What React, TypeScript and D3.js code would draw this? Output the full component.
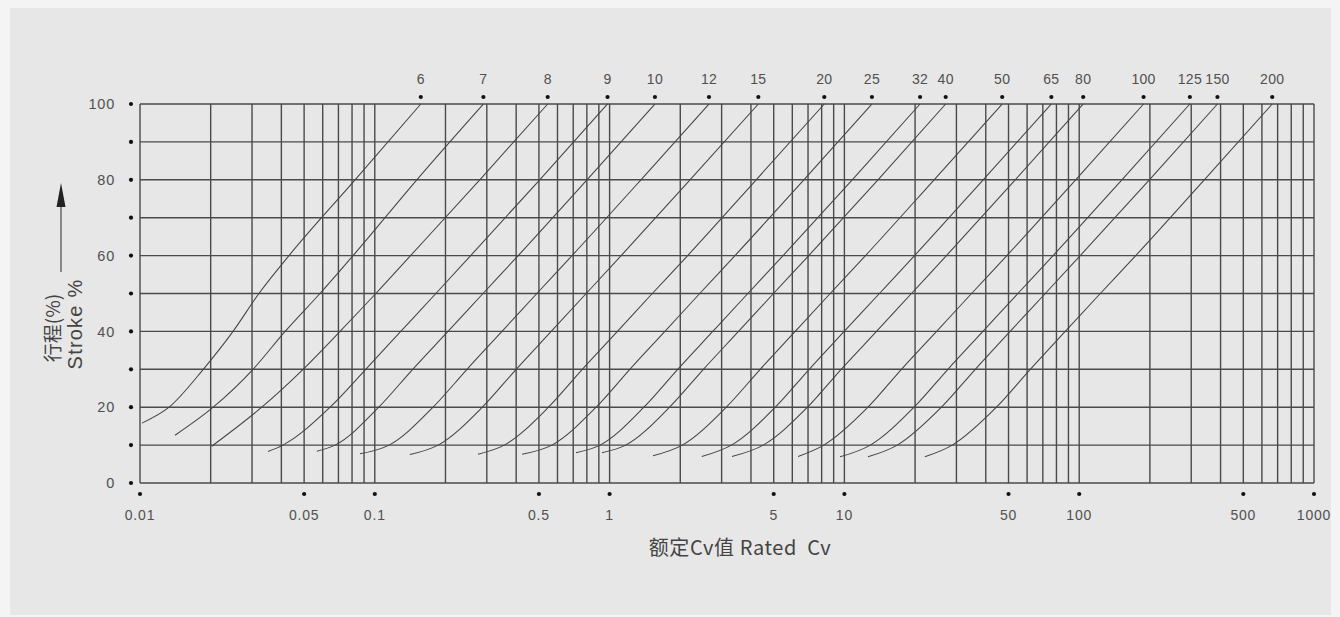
import React, { useEffect, useRef } from 'react'
import * as d3 from 'd3'

// valve sizes (labels on top), rated Cv at 100% stroke
const sizeLabels = ['6', '7', '8', '9', '10', '12', '15', '20', '25', '32', '40', '50', '65', '80', '100', '125', '150', '200']
const ratedCv = [0.157, 0.29, 0.545, 0.98, 1.56, 2.65, 4.3, 8.21, 13.1, 21.0, 27.0, 47.0, 76.1, 104, 188, 296, 388, 664]

// each curve: [Cv, stroke %]
const c6: [number, number][] = [[0.0102, 15.8], [0.0133, 20], [0.0186, 30], [0.0249, 40], [0.0321, 50], [0.0431, 60], [0.0824, 80], [0.157, 100]]
const c7: [number, number][] = [[0.0141, 12.6], [0.0205, 20], [0.0303, 30], [0.0415, 40], [0.0584, 50], [0.0808, 60], [0.151, 80], [0.29, 100]]
const c8: [number, number][] = [[0.0202, 9.7], [0.033, 20], [0.0495, 30], [0.0711, 40], [0.101, 50], [0.142, 60], [0.28, 80], [0.545, 100]]
const c9: [number, number][] = [[0.0351, 8.3], [0.0406, 10], [0.0645, 20], [0.0915, 30], [0.129, 40], [0.182, 50], [0.256, 60], [0.504, 80], [0.98, 100]]
const c10: [number, number][] = [[0.0567, 8.4], [0.0677, 10], [0.104, 20], [0.145, 30], [0.205, 40], [0.289, 50], [0.408, 60], [0.801, 80], [1.56, 100]]
const c12: [number, number][] = [[0.0865, 7.7], [0.115, 10], [0.177, 20], [0.247, 30], [0.348, 40], [0.49, 50], [0.692, 60], [1.36, 80], [2.65, 100]]
const c15: [number, number][] = [[0.141, 7.5], [0.186, 10], [0.287, 20], [0.4, 30], [0.564, 40], [0.795, 50], [1.12, 60], [2.2, 80], [4.3, 100]]
const c20: [number, number][] = [[0.275, 7.6], [0.356, 10], [0.549, 20], [0.765, 30], [1.08, 40], [1.52, 50], [2.15, 60], [4.21, 80], [8.21, 100]]
const c25: [number, number][] = [[0.424, 7.6], [0.568, 10], [0.876, 20], [1.22, 30], [1.72, 40], [2.42, 50], [3.42, 60], [6.72, 80], [13.1, 100]]
const c32: [number, number][] = [[0.719, 8.0], [0.91, 10], [1.4, 20], [1.95, 30], [2.75, 40], [3.88, 50], [5.48, 60], [10.8, 80], [21.0, 100]]
const c40: [number, number][] = [[0.928, 8.0], [1.17, 10], [1.8, 20], [2.51, 30], [3.54, 40], [4.99, 50], [7.05, 60], [13.9, 80], [27.0, 100]]
const c50: [number, number][] = [[1.53, 7.2], [2.04, 10], [3.14, 20], [4.38, 30], [6.17, 40], [8.7, 50], [12.3, 60], [24.1, 80], [47.0, 100]]
const c65: [number, number][] = [[2.47, 7.0], [3.3, 10], [5.08, 20], [7.08, 30], [9.98, 40], [14.1, 50], [19.9, 60], [39.0, 80], [76.1, 100]]
const c80: [number, number][] = [[3.32, 7.0], [4.51, 10], [6.96, 20], [9.69, 30], [13.7, 40], [19.3, 50], [27.2, 60], [53.4, 80], [104, 100]]
const c100: [number, number][] = [[6.35, 7.0], [8.17, 10], [12.6, 20], [17.5, 30], [24.7, 40], [34.8, 50], [49.2, 60], [96.6, 80], [188, 100]]
const c125: [number, number][] = [[9.58, 6.9], [12.9, 10], [19.8, 20], [27.6, 30], [38.9, 40], [54.8, 50], [77.4, 60], [152, 80], [296, 100]]
const c150: [number, number][] = [[12.6, 6.9], [16.8, 10], [25.9, 20], [36.1, 30], [50.8, 40], [71.7, 50], [101, 60], [199, 80], [388, 100]]
const c200: [number, number][] = [[22.0, 6.9], [28.8, 10], [44.4, 20], [61.9, 30], [87.2, 40], [123, 50], [174, 60], [341, 80], [664, 100]]

const curves = [c6, c7, c8, c9, c10, c12, c15, c20, c25, c32, c40, c50, c65, c80, c100, c125, c150, c200]

const xTickValues = [0.01, 0.05, 0.1, 0.5, 1, 5, 10, 50, 100, 500, 1000]
const yTickLabels = [0, 20, 40, 60, 80, 100]
const yDotValues = [0, 10, 20, 30, 40, 50, 60, 70, 80, 90, 100]

const W = 1340
const H = 617
const margin = { left: 140, right: 26, top: 104, bottom: 134 }

export default function App() {
  const ref = useRef<SVGSVGElement>(null)

  useEffect(() => {
    if (!ref.current) return
    const svg = d3.select(ref.current)
    svg.selectAll('*').remove()

    const innerW = W - margin.left - margin.right
    const innerH = H - margin.top - margin.bottom

    svg.append('rect').attr('width', W).attr('height', H).attr('fill', '#f4f4f4')
    svg.append('rect').attr('x', 10).attr('y', 8).attr('width', 1321).attr('height', 607).attr('fill', '#e7e7e7')

    const x = d3.scaleLog().domain([0.01, 1000]).range([0, innerW])
    const y = d3.scaleLinear().domain([0, 100]).range([innerH, 0])

    const g = svg.append('g').attr('transform', `translate(${margin.left},${margin.top})`)

    const gridColor = '#4a4a4a'
    const font = 'Liberation Sans, Arial, sans-serif'
    const textColor = '#505050'

    // vertical grid: 1..9 in each decade
    const vTicks: number[] = []
    for (let e = -2; e < 3; e++) for (let k = 1; k < 10; k++) vTicks.push(k * Math.pow(10, e))
    vTicks.push(1000)
    g.selectAll('.vg').data(vTicks).enter().append('line')
      .attr('x1', d => x(d)).attr('x2', d => x(d))
      .attr('y1', 0).attr('y2', innerH)
      .attr('stroke', gridColor).attr('stroke-width', 1.4)

    g.selectAll('.hg').data(yDotValues).enter().append('line')
      .attr('x1', 0).attr('x2', innerW)
      .attr('y1', d => y(d)).attr('y2', d => y(d))
      .attr('stroke', gridColor).attr('stroke-width', 1.4)

    // curves
    const line = d3.line<[number, number]>()
      .x(d => x(d[0])).y(d => y(d[1]))
      .curve(d3.curveMonotoneX)
    g.selectAll('.curve').data(curves).enter().append('path')
      .attr('d', d => line(d))
      .attr('fill', 'none').attr('stroke', '#444').attr('stroke-width', 1.05)

    // y axis dots + labels
    g.selectAll('.yd').data(yDotValues).enter().append('circle')
      .attr('cx', -9).attr('cy', d => y(d)).attr('r', 2.1).attr('fill', '#111')
    g.selectAll('.yl').data(yTickLabels).enter().append('text')
      .attr('x', -25).attr('y', d => y(d)).attr('dy', '0.36em')
      .attr('text-anchor', 'end').attr('font-family', font).attr('font-size', 14.5)
      .attr('letter-spacing', 0.8)
      .attr('fill', textColor).text(d => String(d))

    // x axis dots + labels
    g.selectAll('.xd').data(xTickValues).enter().append('circle')
      .attr('cx', d => x(d)).attr('cy', innerH + 11).attr('r', 2.1).attr('fill', '#111')
    g.selectAll('.xl').data(xTickValues).enter().append('text')
      .attr('x', d => x(d)).attr('y', innerH + 37)
      .attr('text-anchor', 'middle').attr('font-family', font).attr('font-size', 14)
      .attr('letter-spacing', 0.8)
      .attr('fill', textColor).text(d => String(d))

    // top size labels
    g.selectAll('.td').data(ratedCv).enter().append('circle')
      .attr('cx', d => x(d)).attr('cy', -7).attr('r', 2.1).attr('fill', '#111')
    g.selectAll('.tl').data(ratedCv).enter().append('text')
      .attr('x', d => x(d)).attr('y', -20)
      .attr('text-anchor', 'middle').attr('font-family', font).attr('font-size', 14)
      .attr('letter-spacing', 0.3)
      .attr('fill', textColor).text((_, i) => sizeLabels[i])

    // axis titles
    svg.append('text')
      .attr('x', 740).attr('y', 555)
      .attr('text-anchor', 'middle').attr('font-family', 'Noto Sans CJK SC, Liberation Sans, sans-serif')
      .attr('font-size', 20).attr('letter-spacing', 0.6).attr('fill', '#444')
      .attr('xml:space', 'preserve')
      .text('额定Cv值 Rated  Cv')

    svg.append('text').attr('transform', 'translate(60,328) rotate(-90)').attr('text-anchor', 'middle')
      .attr('font-family', 'Noto Sans CJK SC, sans-serif').attr('font-size', 19).attr('fill', '#444')
      .text('行程(%)')
    svg.append('text').attr('transform', 'translate(82,324) rotate(-90)').attr('text-anchor', 'middle')
      .attr('font-family', font).attr('font-size', 20).attr('letter-spacing', 1.2).attr('fill', '#444')
      .text('Stroke %')

    // arrow
    svg.append('line').attr('x1', 61).attr('x2', 61).attr('y1', 272).attr('y2', 204)
      .attr('stroke', '#555').attr('stroke-width', 1.3)
    svg.append('path').attr('d', 'M61,183 L56.5,207 L65.5,207 Z').attr('fill', '#222')
  }, [])

  return <svg ref={ref} width={W} height={H} style={{ position: 'absolute', left: 0, top: 0, display: 'block' }} />
}
